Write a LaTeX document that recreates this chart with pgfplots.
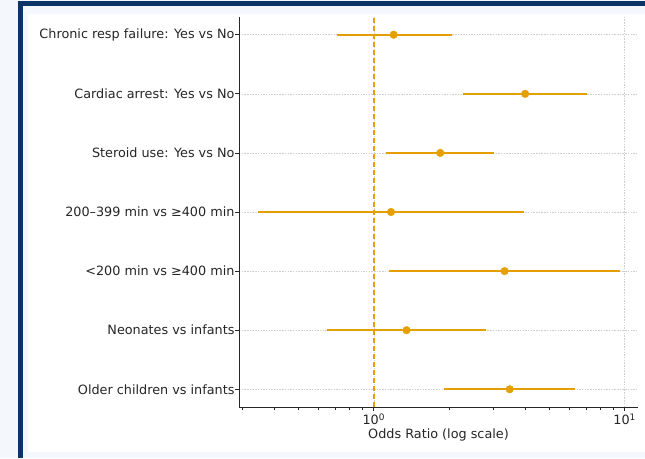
\documentclass[border=0pt]{standalone}
\usepackage{pgfplots}
\pgfplotsset{compat=1.18}
\usepackage{fontspec}
\setmainfont{DejaVu Sans}
\definecolor{ora}{HTML}{E69F00}
\definecolor{navy}{HTML}{0B3467}
\definecolor{pagebg}{HTML}{F4F7FC}
\definecolor{txt}{HTML}{262626}
\definecolor{gridc}{HTML}{CFCFCF}
\begin{document}
\begin{tikzpicture}
\fill[pagebg] (0pt,0pt) rectangle (645pt,-458pt);
\useasboundingbox (0pt,0pt) rectangle (645pt,-458pt);
\fill[navy] (18pt,-1pt) rectangle (22.5pt,-458pt);
\fill[navy] (18pt,-1pt) rectangle (645pt,-6pt);
\fill[white] (28pt,-14pt) rectangle (645pt,-452pt);
\begin{axis}[
  at={(239pt,-407pt)}, anchor=south west,
  scale only axis, width=399pt, height=390pt,
  xmode=log, xmin=0.29, xmax=11.3,
  ymin=-0.3, ymax=6.3,
  axis x line*=bottom, axis y line*=left,
  axis line style={line width=0.9pt, color=txt, -},
  xtick={1,10}, xticklabels={10\textsuperscript{0},10\textsuperscript{1}},
  minor xtick={0.3,0.4,0.5,0.6,0.7,0.8,0.9,2,3,4,5,6,7,8,9},
  ytick={0,1,2,3,4,5,6},
  yticklabels={Older children vs infants, Neonates vs infants, <200 min vs ≥400 min, 200–399 min vs ≥400 min, Steroid use: Yes vs No, Cardiac arrest: Yes vs No, Chronic resp failure: Yes vs No},
  tick align=outside,
  major tick length=4pt, minor tick length=2.5pt,
  tick style={line width=0.8pt, color=txt},
  minor tick style={line width=0.6pt, color=txt},
  xmajorgrids, ymajorgrids,
  major grid style={gridc, line width=0.6pt, dash pattern=on 1.5pt off 1.2pt},
  ticklabel style={font=\fontsize{12.8}{15}\selectfont, text=txt},
  yticklabel style={xshift=3pt},
  xticklabel style={yshift=1pt},
  xlabel={Odds Ratio (log scale)},
  xlabel style={font=\fontsize{12.8}{15}\selectfont, text=txt, yshift=3pt},
  clip=false,
]
\addplot[ora, line width=1.5pt, dash pattern=on 5.5pt off 2.5pt] coordinates {(1,-0.3) (1,6.3)};
\addplot[ora, line width=2pt] coordinates {(0.71,6) (2.05,6)};
\addplot[ora, line width=2pt] coordinates {(2.26,5) (7.10,5)};
\addplot[ora, line width=2pt] coordinates {(1.12,4) (3.02,4)};
\addplot[ora, line width=2pt] coordinates {(0.345,3) (3.98,3)};
\addplot[ora, line width=2pt] coordinates {(1.15,2) (9.55,2)};
\addplot[ora, line width=2pt] coordinates {(0.65,1) (2.79,1)};
\addplot[ora, line width=2pt] coordinates {(1.90,0) (6.36,0)};
\addplot[only marks, mark=*, mark size=3.8pt, mark options={ora, fill=ora}] coordinates {
(1.20,6) (4.01,5) (1.84,4) (1.17,3) (3.32,2) (1.35,1) (3.48,0)};
\end{axis}
\end{tikzpicture}
\end{document}
